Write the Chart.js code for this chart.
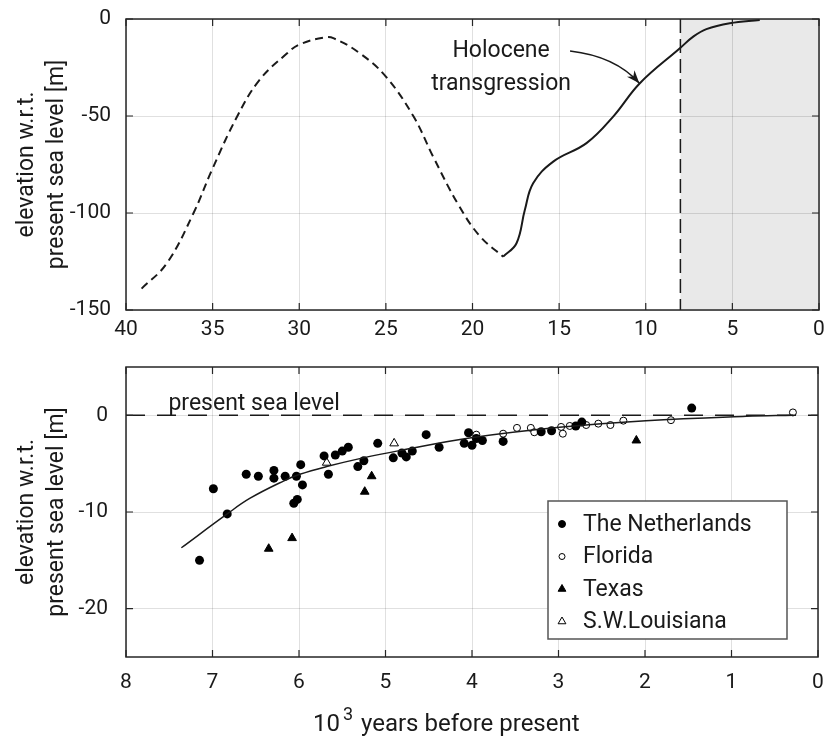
<!DOCTYPE html>
<html>
<head>
<meta charset="utf-8">
<script src="https://cdn.jsdelivr.net/npm/chart.js@4.4.1/dist/chart.umd.min.js"></script>
<style>
html, body { margin: 0; padding: 0; background: #fff; }
#wrap { position: relative; width: 824px; height: 736px; }
.box { position: absolute; left: 0; width: 824px; }
</style>
</head>
<body>
<div id="wrap">
  <div class="box" style="top:0;height:345px"><canvas id="topChart"></canvas></div>
  <div class="box" style="top:345px;height:391px"><canvas id="bottomChart"></canvas></div>
</div>
<script>
// ---- top panel: sea level over the last glacial cycle ----
const glacialAge   = [39.1, 37.65, 36.1, 35.05, 33.6, 32.3, 30.7, 30.0, 28.6, 28.0, 26.5, 25.0, 23.4, 22.27, 20.8, 19.57, 18.23];
const glacialLevel = [-139, -126, -100, -78, -50.5, -31.5, -17.7, -13.2, -9.6, -10, -17.7, -29.7, -50.3, -71, -96, -112, -122.5];
const holoceneAge   = [18.23, 17.46, 16.98, 16.5, 15.34, 13.42, 11.88, 10.34, 8.03, 7.26, 6.5, 5.15, 3.42];
const holoceneLevel = [-122.5, -115.6, -98.5, -84.7, -73.5, -64, -50.3, -33.1, -15.1, -9.1, -5.2, -2.2, -0.5];
const holoceneStart = 8;  // kyr BP, left edge of the shaded band
const topLevelTicks = [-150, -100, -50, 0];

// ---- bottom panel: Holocene sea level indicators ----
const nlAge   = [7.15, 6.99, 6.83, 6.61, 6.47, 6.29, 6.29, 6.16, 6.03, 5.98, 5.96, 6.02, 6.06, 5.71, 5.66, 5.58, 5.50, 5.43, 5.32, 5.25, 5.09, 4.91, 4.81, 4.76, 4.69, 4.53, 4.38, 4.09, 4.04, 4.00, 3.95, 3.88, 3.64, 3.20, 3.08, 2.80, 2.73, 1.46];
const nlLevel = [-15.0, -7.6, -10.2, -6.1, -6.3, -5.7, -6.5, -6.3, -6.3, -5.1, -7.2, -8.7, -9.1, -4.2, -6.1, -4.1, -3.7, -3.3, -5.3, -4.7, -2.9, -4.4, -3.9, -4.3, -3.7, -2.0, -3.3, -2.9, -1.8, -3.1, -2.4, -2.6, -2.7, -1.7, -1.6, -1.1, -0.7, 0.75];
const flAge   = [3.95, 3.64, 3.48, 3.32, 3.28, 2.97, 2.95, 2.87, 2.68, 2.54, 2.40, 2.25, 1.70, 0.29];
const flLevel = [-2.0, -1.9, -1.3, -1.3, -1.75, -1.2, -1.9, -1.1, -1.0, -0.86, -1.0, -0.55, -0.5, 0.3];
const txAge   = [6.35, 6.08, 5.24, 5.16, 2.10];
const txLevel = [-13.8, -12.7, -7.9, -6.3, -2.6];
const laAge   = [5.68, 4.90];
const laLevel = [-4.9, -2.9];
const fitAge   = [7.36, 6.83, 6.57, 6.18, 5.99, 5.68, 5.26, 4.84, 3.99, 2.99, 1.99, 0.83, 0.29];
const fitLevel = [-13.7, -10.2, -8.6, -6.8, -6.1, -5.3, -4.4, -3.65, -2.3, -1.24, -0.55, -0.1, 0.0];
const seaAge   = [8, 0];
const seaLevel = [0, 0];
const bottomLevelTicks = [-20, -10, 0];

function pts(xs, ys) {
    return xs.map((v, i) => ({ x: v, y: ys[i] }));
}

Chart.defaults.font.family = 'Roboto';
Chart.defaults.color = '#1a1a1a';

const INK = '#1a1a1a';
const GRID = 'rgba(0,0,0,0.12)';

// box round the plot with matlab-style inward ticks
function drawFrame(chart) {
    const { ctx, chartArea: a, scales: { x, y } } = chart;
    const len = 7;
    ctx.save();
    ctx.strokeStyle = '#262626';
    ctx.lineWidth = 1.2;
    ctx.beginPath();
    x.ticks.forEach(t => {
        const px = x.getPixelForValue(t.value);
        ctx.moveTo(px, a.bottom); ctx.lineTo(px, a.bottom - len);
        ctx.moveTo(px, a.top); ctx.lineTo(px, a.top + len);
    });
    y.ticks.forEach(t => {
        const py = y.getPixelForValue(t.value);
        ctx.moveTo(a.left, py); ctx.lineTo(a.left + len, py);
        ctx.moveTo(a.right, py); ctx.lineTo(a.right - len, py);
    });
    ctx.stroke();
    ctx.lineWidth = 1.5;
    ctx.strokeRect(a.left, a.top, a.right - a.left, a.bottom - a.top);
    ctx.restore();
}

function yScale(min, max, tickValues, pad) {
    return {
        min: min, max: max,
        ticks: { padding: pad, font: { size: 21 }, color: INK },
        grid: { color: GRID, drawTicks: false },
        border: { display: false },
        title: {
            display: true,
            text: ['elevation w.r.t.', 'present sea level [m]'],
            font: { size: 23, lineHeight: 1.3 },
            padding: { top: 12, bottom: 0 },
            color: INK
        },
        afterBuildTicks: s => { s.ticks = tickValues.map(v => ({ value: v })); },
        afterFit: s => { s.width = 126; s.paddingTop = 0; s.paddingBottom = 0; }
    };
}

function xScale(max, step, pad, h) {
    return {
        min: 0, max: max, reverse: true,
        ticks: { stepSize: step, padding: pad, font: { size: 21 }, color: INK, maxRotation: 0 },
        grid: { color: GRID, drawTicks: false },
        border: { display: false },
        afterFit: s => { s.height = h; s.paddingLeft = 0; s.paddingRight = 0; }
    };
}

// ---------------- top chart ----------------
const topPlugin = {
    id: 'topDecor',
    beforeDraw(chart) {
        const { ctx, chartArea: a, scales: { x } } = chart;
        const x0 = x.getPixelForValue(holoceneStart);
        const x1 = x.getPixelForValue(0);
        ctx.save();
        ctx.fillStyle = '#e9e9e9';
        ctx.fillRect(x0, a.top, x1 - x0, a.bottom - a.top);
        ctx.restore();
    },
    afterDatasetsDraw(chart) {
        const { ctx, chartArea: a, scales: { x, y } } = chart;
        ctx.save();
        // start of holocene
        const xv = x.getPixelForValue(holoceneStart);
        ctx.strokeStyle = INK;
        ctx.lineWidth = 1.5;
        ctx.setLineDash([14, 6]);
        ctx.beginPath();
        ctx.moveTo(xv, a.top);
        ctx.lineTo(xv, a.bottom);
        ctx.stroke();
        ctx.setLineDash([]);

        // annotation
        ctx.fillStyle = INK;
        ctx.font = '23px Roboto';
        ctx.textAlign = 'center';
        ctx.textBaseline = 'alphabetic';
        ctx.fillText('Holocene', x.getPixelForValue(18.35), y.getPixelForValue(-19.4));
        ctx.fillText('transgression', x.getPixelForValue(18.35), y.getPixelForValue(-36.6));

        const sx = x.getPixelForValue(14.37), sy = y.getPixelForValue(-16.5);
        const cx = x.getPixelForValue(11.75), cy = y.getPixelForValue(-19.2);
        const ex = x.getPixelForValue(10.37), ey = y.getPixelForValue(-33.1);
        ctx.lineWidth = 1.5;
        ctx.beginPath();
        ctx.moveTo(sx, sy);
        ctx.quadraticCurveTo(cx, cy, ex, ey);
        ctx.stroke();
        const ang = Math.atan2(ey - cy, ex - cx);
        const hl = 13, hw = 5;
        ctx.beginPath();
        ctx.moveTo(ex, ey);
        ctx.lineTo(ex - hl * Math.cos(ang) + hw * Math.sin(ang), ey - hl * Math.sin(ang) - hw * Math.cos(ang));
        ctx.lineTo(ex - hl * Math.cos(ang) * 0.7, ey - hl * Math.sin(ang) * 0.7);
        ctx.lineTo(ex - hl * Math.cos(ang) - hw * Math.sin(ang), ey - hl * Math.sin(ang) + hw * Math.cos(ang));
        ctx.closePath();
        ctx.fill();
        ctx.restore();
    },
    afterDraw(chart) {
        drawFrame(chart);
    }
};

new Chart(document.getElementById('topChart'), {
    type: 'scatter',
    data: {
        datasets: [
            {
                data: pts(glacialAge, glacialLevel),
                showLine: true, borderColor: INK, borderWidth: 2, borderDash: [8, 5],
                pointRadius: 0, tension: 0.4
            },
            {
                data: pts(holoceneAge, holoceneLevel),
                showLine: true, borderColor: INK, borderWidth: 2,
                pointRadius: 0, tension: 0.4
            }
        ]
    },
    options: {
        responsive: true,
        maintainAspectRatio: false,
        animation: false,
        layout: { padding: { top: 19, right: 5, left: 0, bottom: 0 } },
        plugins: { legend: { display: false }, tooltip: { enabled: false } },
        scales: {
            x: xScale(40, 5, 7, 35),
            y: yScale(-150, 0, topLevelTicks, 15)
        }
    },
    plugins: [topPlugin]
});

// ---------------- bottom chart ----------------
const bottomPlugin = {
    id: 'bottomDecor',
    afterDatasetsDraw(chart) {
        const { ctx, scales: { x, y } } = chart;
        ctx.save();
        ctx.fillStyle = INK;
        ctx.font = '23px Roboto';
        ctx.textAlign = 'left';
        ctx.textBaseline = 'alphabetic';
        ctx.fillText('present sea level', x.getPixelForValue(7.51), y.getPixelForValue(0) - 5);
        ctx.restore();
    },
    afterDraw(chart) {
        drawFrame(chart);
        const { ctx } = chart;
        ctx.save();
        // legend
        const lx = 548, ly = 156, lw = 239, lh = 138;
        ctx.fillStyle = '#fff';
        ctx.fillRect(lx, ly, lw, lh);
        ctx.strokeStyle = '#555';
        ctx.lineWidth = 1.5;
        ctx.strokeRect(lx, ly, lw, lh);
        ctx.font = '23px Roboto';
        ctx.textBaseline = 'middle';
        ctx.textAlign = 'left';
        chart.data.datasets.filter(d => d.label).forEach((d, i) => {
            const cy = ly + 23 + i * 32.5;
            ctx.fillStyle = d.backgroundColor;
            ctx.strokeStyle = d.borderColor;
            ctx.lineWidth = 1;
            Chart.helpers.drawPoint(ctx, { pointStyle: d.pointStyle, radius: d.legendRadius, borderWidth: 1 }, lx + 14, cy);
            ctx.fillStyle = INK;
            ctx.fillText(d.label, lx + 35, cy + 1);
        });
        // x axis title with superscript
        const tx = 313, ty = 386;
        ctx.fillStyle = INK;
        ctx.textBaseline = 'alphabetic';
        ctx.font = '24px Roboto';
        ctx.fillText('10', tx, ty);
        const w10 = ctx.measureText('10').width;
        ctx.font = '18px Roboto';
        ctx.fillText('3', tx + w10 + 3, ty - 11);
        ctx.font = '24px Roboto';
        ctx.fillText('years before present', tx + w10 + 21, ty);
        ctx.restore();
    }
};

new Chart(document.getElementById('bottomChart'), {
    type: 'scatter',
    data: {
        datasets: [
            {
                data: pts(seaAge, seaLevel),
                showLine: true, borderColor: INK, borderWidth: 1.5, borderDash: [19, 12],
                pointRadius: 0
            },
            {
                data: pts(fitAge, fitLevel),
                showLine: true, borderColor: INK, borderWidth: 1.5,
                pointRadius: 0, tension: 0.4
            },
            {
                label: 'The Netherlands',
                data: pts(nlAge, nlLevel),
                pointStyle: 'circle', pointRadius: 4.5, legendRadius: 3.5,
                backgroundColor: '#000', borderColor: '#000', borderWidth: 0
            },
            {
                label: 'Florida',
                data: pts(flAge, flLevel),
                pointStyle: 'circle', pointRadius: 3.5, legendRadius: 3,
                backgroundColor: '#fff', borderColor: '#000', borderWidth: 1
            },
            {
                label: 'Texas',
                data: pts(txAge, txLevel),
                pointStyle: 'triangle', pointRadius: 5, legendRadius: 4.5,
                backgroundColor: '#000', borderColor: '#000', borderWidth: 1
            },
            {
                label: 'S.W.Louisiana',
                data: pts(laAge, laLevel),
                pointStyle: 'triangle', pointRadius: 5, legendRadius: 4.5,
                backgroundColor: '#fff', borderColor: '#000', borderWidth: 1
            }
        ]
    },
    options: {
        responsive: true,
        maintainAspectRatio: false,
        animation: false,
        layout: { padding: { top: 22, right: 5, left: 0, bottom: 0 } },
        plugins: { legend: { display: false }, tooltip: { enabled: false } },
        scales: {
            x: xScale(8, 1, 13, 79),
            y: yScale(-25, 5, bottomLevelTicks, 18)
        }
    },
    plugins: [bottomPlugin]
});
</script>
</body>
</html>
